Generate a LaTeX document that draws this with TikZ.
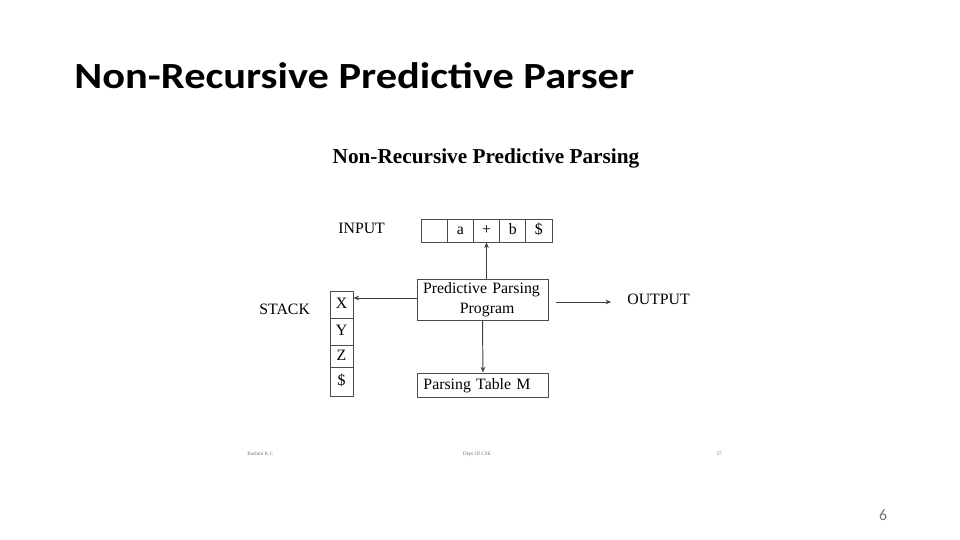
\documentclass[tikz,border=0pt]{standalone}
\usepackage{fontspec}
\setmainfont{Liberation Serif}
\newfontfamily\slidefont{Carlito}
\usetikzlibrary{arrows.meta,positioning}

\begin{document}
\begin{tikzpicture}[x=0.02cm, y=-0.02cm,
	txt/.style={inner sep=0pt, font=\fontsize{9}{10}\selectfont},
	cell/.style={draw=black!70, line width=0.55pt, inner sep=0pt, text height=6.2pt, text depth=1.6pt, font=\fontsize{9}{10}\selectfont},
	flow/.style={draw=black!75, line width=0.55pt, -{Stealth[length=3.2pt,width=2.6pt]}}]
	% slide frame
	\useasboundingbox (0,0) rectangle (960,540);
	% slide title
	\node[anchor=base west, inner sep=0pt, xscale=1.15, font=\slidefont\bfseries\fontsize{21}{25}\selectfont] (title) at (74,89) {Non-Recursive Predictive Parser};
	\node[anchor=base, inner sep=0pt, font=\bfseries\fontsize{12.1}{14}\selectfont] (heading) at (486,164) {Non-Recursive Predictive Parsing};
	% input tape
	\node[txt, anchor=base west] (inlabel) at (338,234) {INPUT};
	\foreach \c [count=\i] in {{}, a, +, b, \$} {
		\node[cell, minimum width=0.524cm, minimum height=0.46cm] (t\i) at (434.1+26.2*\i-26.2,230.5) {\c};
	}
	% parsing program
	\node[cell, text height=, text depth=, inner xsep=0.12cm, text width=2.38cm, minimum height=0.82cm, align=left, font=\fontsize{9}{11.5}\selectfont] (prog) at (482.5,299.5) {Predictive Parsing\\\hspace*{21pt}Program};
	% stack
	\node[txt, anchor=base west] (stacklabel) at (259,315) {STACK};
	\node[cell, minimum width=0.46cm, minimum height=0.54cm] (s1) at (341.5,304.5) {X};
	\node[cell, minimum width=0.46cm, minimum height=0.54cm] (s2) at (341.5,331.5) {Y};
	\node[cell, minimum width=0.46cm, minimum height=0.44cm] (s3) at (341.5,356) {Z};
	\node[cell, minimum width=0.46cm, minimum height=0.58cm] (s4) at (341.5,381.5) {\$};
	% output
	\node[txt, anchor=base west] (outlabel) at (627,305) {OUTPUT};
	% parsing table
	\node[cell, inner xsep=0.12cm, text width=2.38cm, minimum height=0.48cm, anchor=west] (table) at (417,385) {Parsing Table M};
	% connectors
	\draw[flow] (prog.north -| t3) -- (t3.south);
	\draw[flow] (prog.west |- 0,298) -- (s1.east |- 0,298);
	\draw[flow, shorten <=4pt, shorten >=9pt] (prog.east |- 0,302) -- (outlabel.west |- 0,302);
	\draw[flow] (prog.south) -- (table.north);
	% footer
	\begin{scope}[every node/.style={inner sep=0pt, text=black!55, font=\fontsize{3}{3}\selectfont}]
		\node[anchor=west] (fleft) at (247,454) {Rashmi K C};
		\node (fmid) at (477,454) {Dept Of CSE};
		\node (fright) at (719,454) {37};
	\end{scope}
	\node[inner sep=0pt, text=black!55, font=\slidefont\fontsize{9}{10}\selectfont] (pageno) at (883,515) {6};
\end{tikzpicture}
\end{document}
